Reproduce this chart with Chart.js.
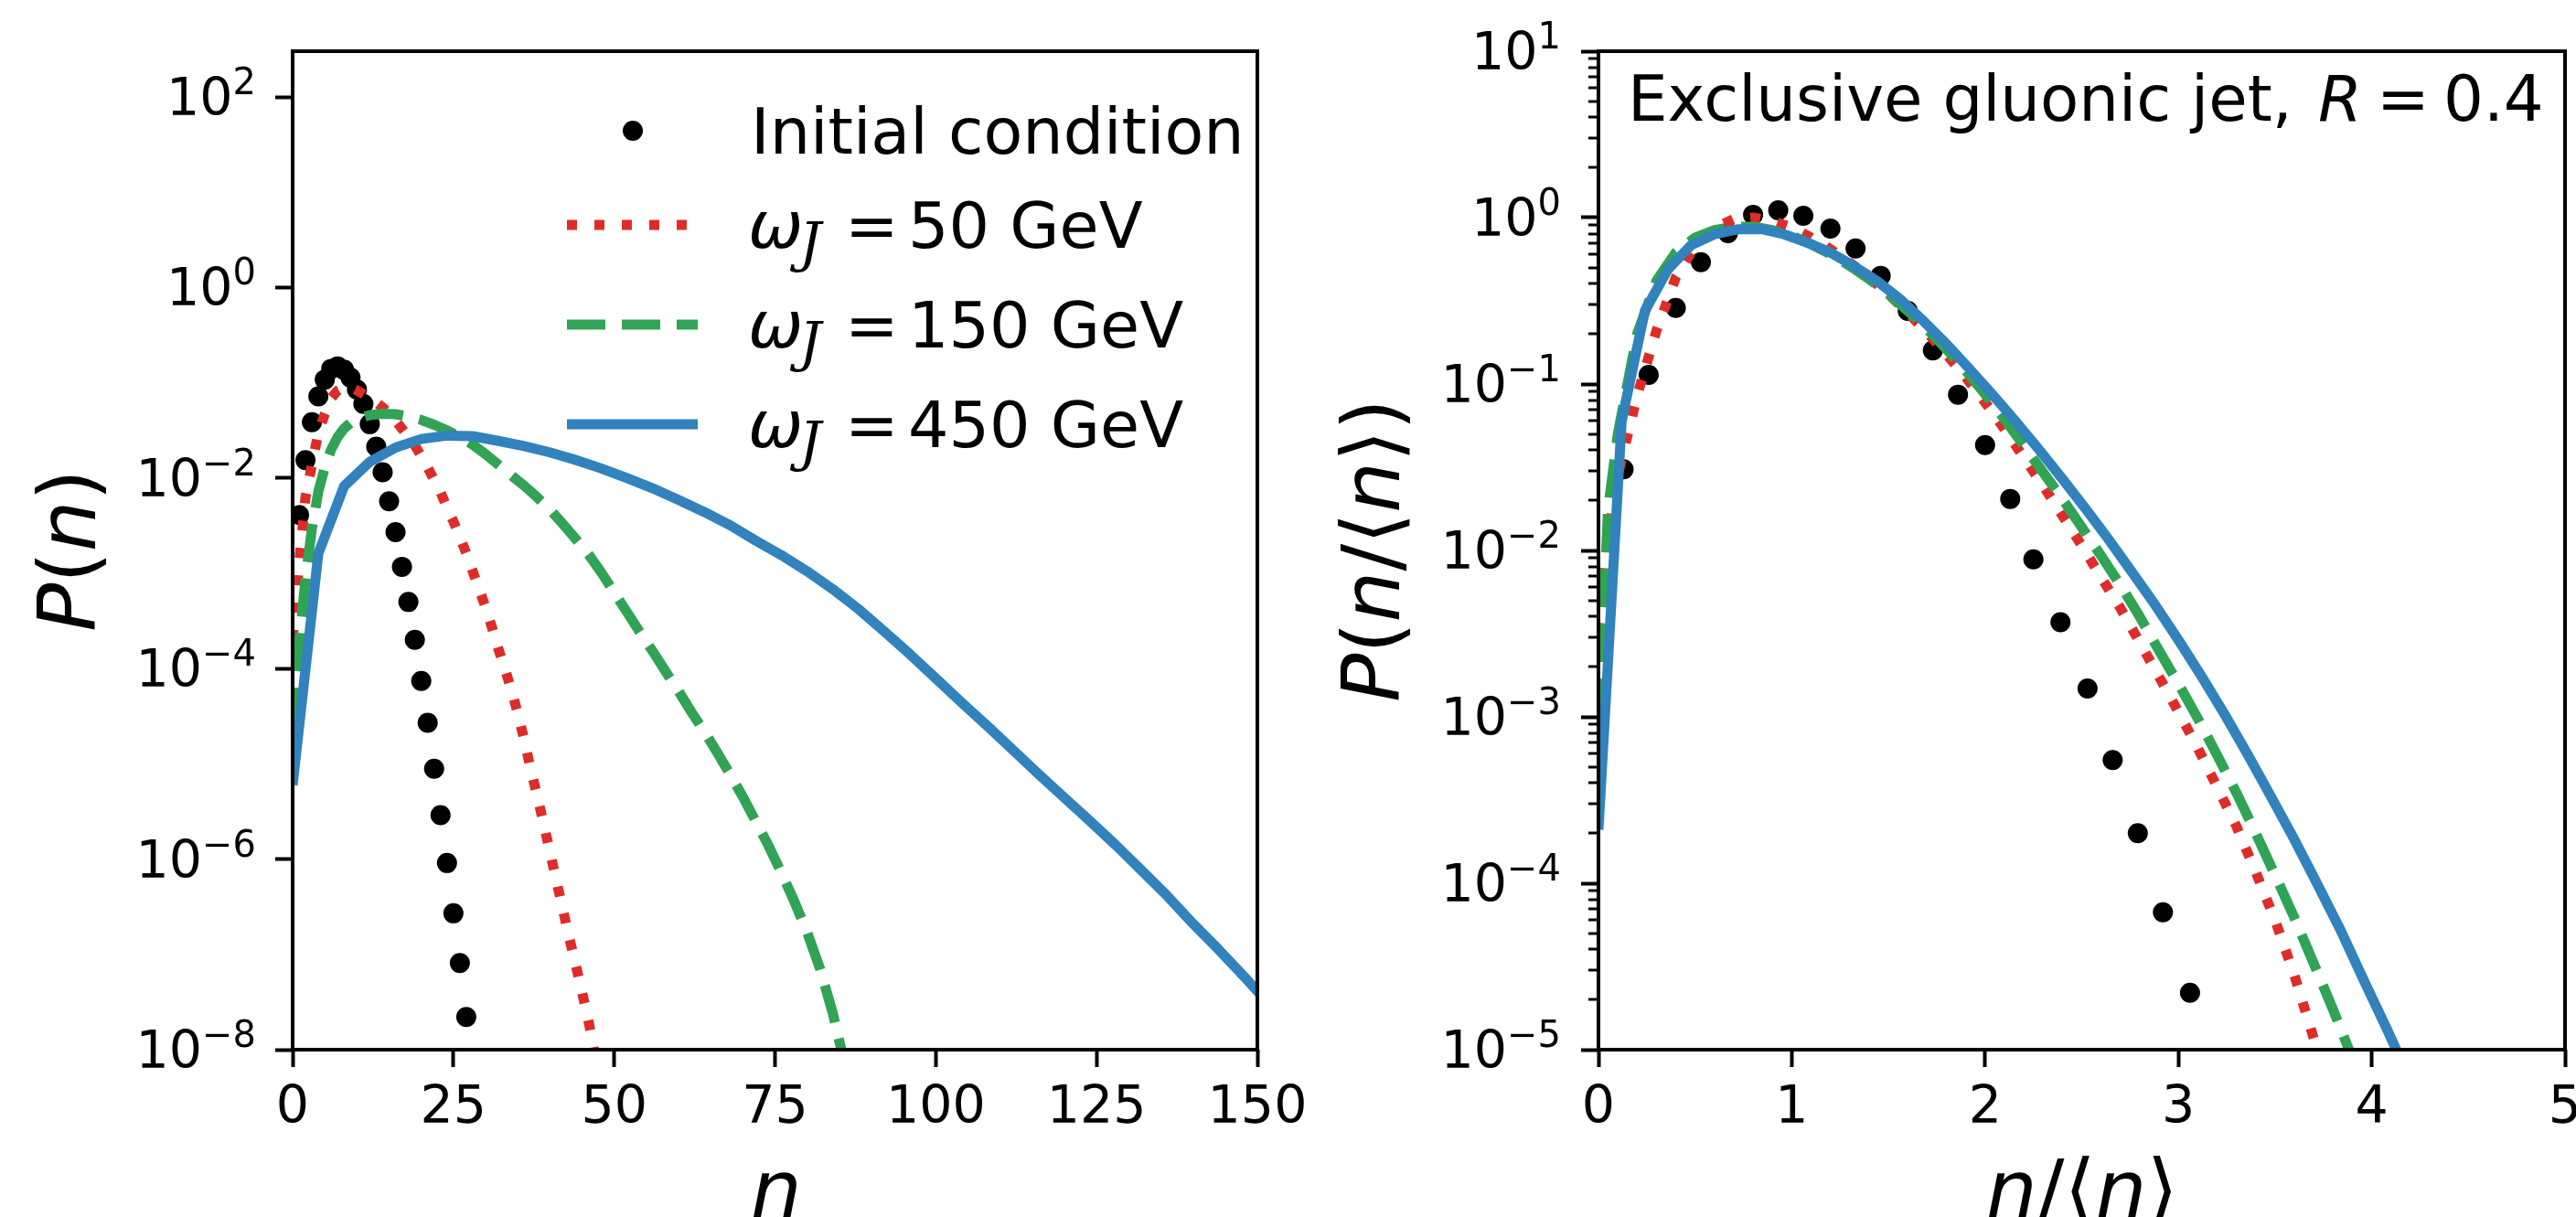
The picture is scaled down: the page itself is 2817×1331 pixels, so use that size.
<!DOCTYPE html>
<html>
<head>
<meta charset="utf-8">
<script src="https://cdn.jsdelivr.net/npm/chart.js@4.4.0/dist/chart.umd.min.js"></script>
<style>
html, body { margin: 0; padding: 0; background: #fff; }
#wrap { position: relative; width: 2817px; height: 1331px; overflow: hidden; background: #fff; }
canvas { position: absolute; top: 0; }
</style>
</head>
<body>
<div id="wrap">
  <canvas id="left" width="1440" height="1331" style="left:0px"></canvas>
  <canvas id="right" width="1397" height="1331" style="left:1420px"></canvas>
</div>
<script>
// ---- left panel: P(n) vs n ----
const nCond = [1,2,3,4,5,6,7,8,9,10,11,12,13,14,15,16,17,18,19,20,21,22,23,24,25,26,27];
const pCond = [0.0041,0.0154,0.0385,0.072,0.108,0.140,0.148,0.137,0.113,0.085,0.060,0.0368,0.0213,0.0115,
  0.0057,0.0027,0.00117,5.0e-4,2.0e-4,7.4e-5,2.7e-5,8.9e-6,2.9e-6,9.1e-7,2.7e-7,8.1e-8,2.2e-8];

const n50 = [0,1,2,3,4,5,6,7,8,9,10,11,12,13,14,15,16,17,18,19,20,21,22,23,24,25,26,27,28,29,30,
  31,32,33,34,35,36,37,38,39,40,41,42,43,44,45,46,47];
const p50 = [2.0e-4,1.26e-3,6.3e-3,0.0138,0.030,0.047,0.069,0.083,0.089,0.089,0.083,0.076,0.069,0.062,
  0.055,0.048,0.040,0.033,0.027,0.022,0.017,0.0129,0.0095,0.0071,0.0049,0.0035,0.0024,0.00162,1.05e-3,
  6.8e-4,4.4e-4,2.7e-4,1.6e-4,1.0e-4,6.0e-5,3.4e-5,1.8e-5,8.9e-6,4.7e-6,2.4e-6,1.2e-6,6.0e-7,3.0e-7,
  1.5e-7,7.9e-8,4.0e-8,2.0e-8,8.9e-9];

const n150 = [0,1,2,3,4,5,6,7,8,9,10,12,14,16,18,20,22,24,26,28,30,32,34,36,38,40,42,44,46,48,50,
  52,54,56,58,60,62,64,66,68,70,72,74,76,78,80,82,84,86];
const p150 = [2.5e-5,1.8e-4,8.7e-4,2.95e-3,7.2e-3,0.0129,0.020,0.0269,0.0331,0.038,0.0417,0.0457,0.0473,
  0.0468,0.0442,0.0407,0.0363,0.0316,0.0269,0.0224,0.0178,0.0138,0.0107,8.3e-3,6.3e-3,4.7e-3,3.3e-3,
  2.3e-3,1.58e-3,1.02e-3,6.3e-4,3.9e-4,2.4e-4,1.51e-4,9.3e-5,5.8e-5,3.5e-5,2.2e-5,1.32e-5,7.8e-6,
  4.5e-6,2.5e-6,1.38e-6,7.2e-7,3.6e-7,1.7e-7,7.1e-8,2.4e-8,6.3e-9];

const n450 = [0,4,8,12,16,20,24,28,32,36,40,44,48,52,56,60,64,68,72,76,80,84,88,92,96,100,
  104,108,112,116,120,124,128,132,136,140,144,148,152];
const p450 = [6.0e-6,1.62e-3,8.2e-3,0.0148,0.0209,0.0257,0.0279,0.0275,0.0245,0.0216,0.0186,0.0155,
  0.0126,0.0100,7.8e-3,5.9e-3,4.4e-3,3.2e-3,2.2e-3,1.55e-3,1.05e-3,6.8e-4,4.2e-4,2.45e-4,1.41e-4,
  7.9e-5,4.4e-5,2.5e-5,1.4e-5,7.8e-6,4.4e-6,2.5e-6,1.4e-6,7.6e-7,4.1e-7,2.1e-7,1.12e-7,5.8e-8,2.9e-8];

// ---- right panel: P(n/<n>) vs n/<n> ----
const uCond = [0.13,0.26,0.40,0.53,0.67,0.80,0.93,1.06,1.20,1.33,1.46,1.60,1.73,1.86,2.00,2.13,
  2.25,2.39,2.53,2.66,2.79,2.92,3.06];
const qCond = [0.0307,0.1135,0.287,0.54,0.807,1.04,1.107,1.026,0.859,0.653,0.447,0.275,0.159,0.0863,
  0.043,0.0204,0.00885,0.0037,0.00148,5.5e-4,2.0e-4,6.7e-5,2.2e-5];

const u50 = [0,0.06,0.1,0.2,0.3,0.4,0.5,0.6,0.7,0.8,0.9,1.0,1.1,1.2,1.3,1.4,1.5,1.6,1.7,1.8,1.9,
  2.0,2.1,2.2,2.3,2.4,2.5,2.6,2.7,2.8,2.9,3.0,3.1,3.2,3.3,3.4,3.5,3.6,3.7,3.8];
const q50 = [3.2e-3,0.0141,0.0282,0.085,0.209,0.437,0.676,0.871,0.977,1.0,0.955,0.871,0.759,0.646,
  0.537,0.437,0.347,0.269,0.204,0.151,0.110,0.0776,0.0537,0.0363,0.0245,0.0162,0.0107,6.9e-3,4.5e-3,
  2.8e-3,1.74e-3,1.07e-3,6.5e-4,3.8e-4,2.2e-4,1.17e-4,6.0e-5,2.8e-5,1.17e-5,4.5e-6];

const u150 = [0,0.05,0.1,0.2,0.3,0.4,0.5,0.6,0.7,0.8,0.9,1.0,1.1,1.2,1.3,1.4,1.5,1.6,1.7,1.8,1.9,
  2.0,2.1,2.2,2.3,2.4,2.5,2.6,2.7,2.8,2.9,3.0,3.1,3.2,3.3,3.4,3.5,3.6,3.7,3.8,3.9];
const q150 = [1.0e-3,0.0178,0.050,0.20,0.417,0.617,0.759,0.841,0.881,0.881,0.841,0.776,0.692,0.603,
  0.513,0.427,0.347,0.275,0.214,0.162,0.120,0.087,0.0617,0.0427,0.0295,0.0204,0.0138,9.3e-3,6.2e-3,
  4.0e-3,2.5e-3,1.58e-3,9.8e-4,5.9e-4,3.5e-4,2.0e-4,1.12e-4,6.2e-5,3.3e-5,1.74e-5,8.9e-6];

const u450 = [0,0.12,0.24,0.36,0.48,0.6,0.72,0.84,0.96,1.08,1.2,1.32,1.44,1.56,1.68,1.8,1.92,2.04,
  2.16,2.28,2.4,2.52,2.64,2.76,2.88,3.0,3.12,3.24,3.36,3.48,3.6,3.72,3.84,3.96,4.08,4.2];
const q450 = [2.1e-4,0.060,0.275,0.49,0.684,0.794,0.851,0.855,0.794,0.708,0.617,0.513,0.417,0.324,
  0.240,0.174,0.123,0.0859,0.0592,0.0402,0.0269,0.0178,0.0116,7.4e-3,4.7e-3,2.9e-3,1.75e-3,1.03e-3,
  5.9e-4,3.3e-4,1.83e-4,9.8e-5,5.2e-5,2.6e-5,1.32e-5,6.5e-6];

// ticks and legend text
const yTicksLeft = [1e-8, 1e-6, 1e-4, 1e-2, 1, 100];
const yTicksRight = [1e-5, 1e-4, 1e-3, 1e-2, 1e-1, 1, 10];
const energies = ['50', '150', '450'];

const RED = '#de2d26', GREEN = '#31a354', BLUE = '#3182bd';
const LW = 11;
const DOT = [11, 19], DASH = [42, 18];

Chart.defaults.font.family = '"DejaVu Sans", sans-serif';
Chart.defaults.color = '#000';

function pts(xs, ys) { return xs.map((x, i) => ({x: x, y: ys[i]})); }

function lineSet(xs, ys, color, dash, order) {
  return {type: 'line', data: pts(xs, ys), borderColor: color, borderWidth: LW, borderDash: dash,
    borderCapStyle: 'butt', borderJoinStyle: 'round', pointRadius: 0, pointHoverRadius: 0,
    fill: false, tension: 0, clip: 0, order: order};
}

function dotSet(xs, ys) {
  return {type: 'scatter', data: pts(xs, ys), showLine: false, backgroundColor: '#000',
    borderWidth: 0, pointRadius: 11, pointHoverRadius: 11, clip: 0, order: 3};
}

const IT = s => 'italic ' + s + 'px "DejaVu Sans"';
const RM = s => s + 'px "DejaVu Sans"';

// text made of runs with different fonts
function runs(ctx, parts, x, y, center) {
  let w = 0;
  parts.forEach(p => { ctx.font = p[1]; w += ctx.measureText(p[0]).width; });
  let cx = center ? x - w / 2 : x;
  parts.forEach(p => { ctx.font = p[1]; ctx.fillText(p[0], cx, y); cx += ctx.measureText(p[0]).width; });
}

// 10^k labels at the y scale's tick positions, right edge at xr
function powLabels(chart, vals, xr) {
  const ctx = chart.ctx, s = chart.scales.y;
  vals.forEach(v => {
    const py = s.getPixelForValue(v);
    const e = String(Math.round(Math.log10(v))).replace('-', '\u2212');
    ctx.font = RM(40);
    const we = ctx.measureText(e).width;
    ctx.fillText(e, xr - we, py - 3);
    ctx.font = RM(57);
    const wb = ctx.measureText('10').width;
    ctx.fillText('10', xr - we - wb, py + 20);
  });
}

function frame(chart) {
  const a = chart.chartArea, ctx = chart.ctx;
  ctx.save();
  ctx.strokeStyle = '#000';
  ctx.lineWidth = 4;
  ctx.setLineDash([]);
  ctx.strokeRect(a.left, a.top, a.right - a.left, a.bottom - a.top);
  ctx.restore();
}

function scales(xmax, ymin, ymax, yTicks, yWidth, xHeight) {
  return {
    x: {
      type: 'linear', min: 0, max: xmax,
      afterFit: s => { s.height = xHeight; s.paddingLeft = 0; s.paddingRight = 0; },
      ticks: {stepSize: xmax === 150 ? 25 : 1, font: {size: 57}, color: '#000', padding: 12,
        maxRotation: 0, autoSkip: false},
      grid: {drawOnChartArea: false, tickLength: 19, tickWidth: 4, tickColor: '#000'},
      border: {display: false}
    },
    y: {
      type: 'logarithmic', min: ymin, max: ymax,
      afterFit: s => { s.width = yWidth; s.paddingTop = 0; s.paddingBottom = 0; },
      afterBuildTicks: s => { s.ticks = yTicks.map(v => ({value: v})); },
      ticks: {display: false, autoSkip: false},
      grid: {drawOnChartArea: false, tickLength: 19, tickWidth: 4, tickColor: '#000'},
      border: {display: false}
    }
  };
}

const common = {
  responsive: false, animation: false, devicePixelRatio: 1, events: [],
  plugins: {legend: {display: false}, tooltip: {enabled: false}}
};

new Chart(document.getElementById('left'), {
  type: 'scatter',
  data: {datasets: [
    dotSet(nCond, pCond),
    lineSet(n50, p50, RED, DOT, 2),
    lineSet(n150, p150, GREEN, DASH, 1),
    lineSet(n450, p450, BLUE, [], 0)
  ]},
  options: Object.assign({}, common, {
    layout: {autoPadding: false, padding: {left: 0, top: 56, right: 65, bottom: 0}},
    scales: scales(150, 1e-8, 302, yTicksLeft, 320, 183)
  }),
  plugins: [{
    id: 'deco',
    afterDatasetsDraw(chart) { frame(chart); },
    afterDraw(chart) {
      const ctx = chart.ctx;
      ctx.save();
      ctx.fillStyle = '#000';
      ctx.textBaseline = 'alphabetic';
      powLabels(chart, yTicksLeft, 280);
      // axis labels
      runs(ctx, [['n', IT(88)]], 849, 1331, true);
      ctx.save();
      ctx.translate(104, 602);
      ctx.rotate(-Math.PI / 2);
      runs(ctx, [['P', IT(88)], ['(', RM(88)], ['n', IT(88)], [')', RM(88)]], 0, 0, true);
      ctx.restore();
      // legend
      ctx.beginPath();
      ctx.arc(692, 143, 11, 0, Math.PI * 2);
      ctx.fill();
      ctx.font = RM(70);
      ctx.fillText('Initial condition', 821, 168);
      const rows = [[246, RED, DOT], [355, GREEN, DASH], [464, BLUE, []]];
      rows.forEach((r, i) => {
        ctx.save();
        ctx.strokeStyle = r[1];
        ctx.lineWidth = LW;
        ctx.lineCap = 'butt';
        ctx.setLineDash(r[2]);
        ctx.beginPath();
        ctx.moveTo(620, r[0]);
        ctx.lineTo(763, r[0]);
        ctx.stroke();
        ctx.restore();
        const b = r[0] + 25;
        ctx.font = IT(72);
        ctx.fillText('\u03C9', 818, b);
        ctx.font = 'italic 60px "DejaVu Serif"';
        ctx.fillText('J', 874, b + 15);
        ctx.font = RM(70);
        ctx.fillText('=', 924, b);
        ctx.fillText(energies[i] + ' GeV', 993, b);
      });
      ctx.restore();
    }
  }]
});

const OFF = 1420;
new Chart(document.getElementById('right'), {
  type: 'scatter',
  data: {datasets: [
    dotSet(uCond, qCond),
    lineSet(u50, q50, RED, DOT, 2),
    lineSet(u150, q150, GREEN, DASH, 1),
    lineSet(u450, q450, BLUE, [], 0)
  ]},
  options: Object.assign({}, common, {
    layout: {autoPadding: false, padding: {left: 0, top: 56, right: 12, bottom: 0}},
    scales: scales(5, 1e-5, 10, yTicksRight, 1748 - OFF, 183)
  }),
  plugins: [{
    id: 'deco',
    afterDatasetsDraw(chart) { frame(chart); },
    afterDraw(chart) {
      const ctx = chart.ctx, y = chart.scales.y, a = chart.chartArea;
      ctx.save();
      // minor log ticks on the left spine
      ctx.strokeStyle = '#000';
      ctx.lineWidth = 3;
      for (let e = -5; e < 1; e++) {
        for (let m = 2; m <= 9; m++) {
          const py = Math.round(y.getPixelForValue(m * Math.pow(10, e)));
          ctx.beginPath();
          ctx.moveTo(a.left - 11, py);
          ctx.lineTo(a.left, py);
          ctx.stroke();
        }
      }
      ctx.fillStyle = '#000';
      ctx.textBaseline = 'alphabetic';
      powLabels(chart, yTicksRight, 1707 - OFF);
      // title inside the axes
      ctx.font = RM(69);
      ctx.fillText('Exclusive gluonic jet,', 1780 - OFF, 132);
      ctx.font = IT(69);
      ctx.fillText('R', 2535 - OFF, 132);
      ctx.font = RM(69);
      ctx.fillText('=', 2599 - OFF, 132);
      ctx.fillText('0.4', 2672 - OFF, 132);
      // axis labels
      runs(ctx, [['n', IT(88)], ['/', RM(88)], ['\u27E8', RM(88)], ['n', IT(88)], ['\u27E9', RM(88)]],
        2277 - OFF, 1331, true);
      ctx.save();
      ctx.translate(1530 - OFF, 602);
      ctx.rotate(-Math.PI / 2);
      runs(ctx, [['P', IT(88)], ['(', RM(88)], ['n', IT(88)], ['/', RM(88)], ['\u27E8', RM(88)],
        ['n', IT(88)], ['\u27E9', RM(88)], [')', RM(88)]], 0, 0, true);
      ctx.restore();
      ctx.restore();
    }
  }]
});
</script>
</body>
</html>
